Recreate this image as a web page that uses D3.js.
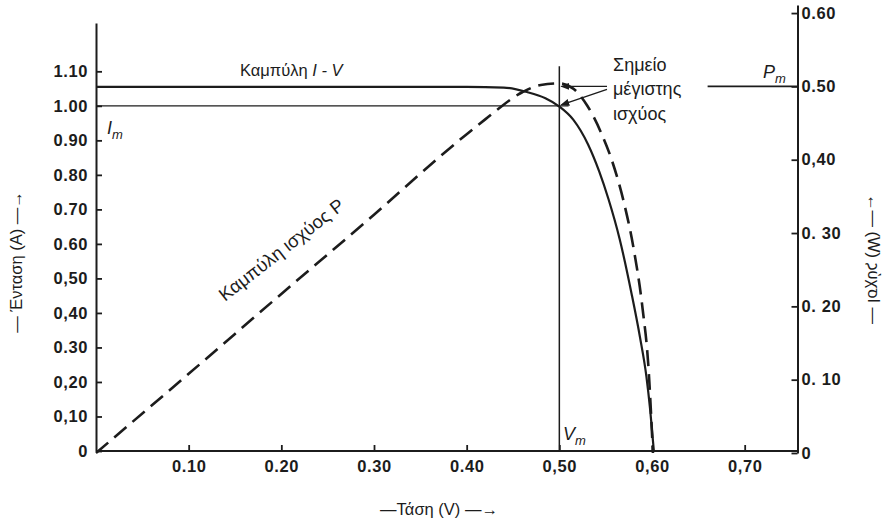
<!DOCTYPE html>
<html><head><meta charset="utf-8">
<script src="https://cdn.jsdelivr.net/npm/d3@7"></script>
<style>
html,body{margin:0;padding:0;background:#fff;}
svg{display:block;}
text{font-family:"Liberation Sans",Arial,sans-serif;fill:#1c1c1c;}
</style></head>
<body>
<svg id="chart" width="888" height="524"></svg>
<script>
// ---- data ----
const ivVoltage = [0, 0.10, 0.20, 0.30, 0.40, 0.44, 0.465, 0.485, 0.50, 0.515, 0.531, 0.543, 0.553, 0.565, 0.578, 0.587, 0.594, 0.598, 0.602];
const ivCurrent = [1.055, 1.055, 1.055, 1.055, 1.055, 1.053, 1.04, 1.022, 0.998, 0.96, 0.888, 0.81, 0.73, 0.615, 0.455, 0.33, 0.215, 0.12, 0];

const pVoltage = [0, 0.10, 0.20, 0.30, 0.37, 0.42, 0.46, 0.48, 0.50, 0.515, 0.53, 0.545, 0.557, 0.57, 0.58, 0.59, 0.596, 0.601];
const pPower   = [0, 0.108, 0.217, 0.325, 0.403, 0.455, 0.492, 0.502, 0.504, 0.497, 0.474, 0.437, 0.398, 0.34, 0.28, 0.195, 0.12, 0];

const xTicks = [0.10, 0.20, 0.30, 0.40, 0.50, 0.60, 0.70];
const xTickLabels = ["0.10", "0.20", "0.30", "0.40", "0,50", "0,60", "0,70"];
const iTicks = [0, 0.10, 0.20, 0.30, 0.40, 0.50, 0.60, 0.70, 0.80, 0.90, 1.00, 1.10];
const iTickLabels = ["0", "0,10", "0,20", "0.30", "0,40", "0,50", "0.60", "0.70", "0.80", "0.90", "1.00", "1.10"];
const pTicks = [0, 0.10, 0.20, 0.30, 0.40, 0.50, 0.60];
const pTickLabels = ["0", "0. 10", "0. 20", "0. 30", "0,40", "0.50", "0.60"];

const maxPowerV = 0.50, maxPowerI = 1.00, maxPowerP = 0.50;

// ---- scales ----
const svg = d3.select("#chart");
const x = d3.scaleLinear().domain([0, 0.757]).range([96, 797.5]);
const yI = d3.scaleLinear().domain([0, 1.24]).range([451, 23]);
const yP = d3.scaleLinear().domain([0, 0.611]).range([453, 5]);

const ink = "#1c1c1c";

const defs = svg.append("defs");
defs.append("marker").attr("id","ah").attr("viewBox","0 0 10 8").attr("refX",9).attr("refY",4)
  .attr("markerWidth",9).attr("markerHeight",7).attr("markerUnits","userSpaceOnUse").attr("orient","auto")
  .append("path").attr("d","M0,0 L10,4 L0,8 Z").attr("fill",ink);

// ---- axes ----
const fmtLabel = (vals, labels) => d => labels[vals.indexOf(d)];

const gL = svg.append("g").attr("transform", `translate(${x(0)},0)`)
  .call(d3.axisLeft(yI).tickValues(iTicks).tickFormat(fmtLabel(iTicks, iTickLabels)).tickSizeInner(-6).tickSizeOuter(0).tickPadding(8));
const gB = svg.append("g").attr("transform", `translate(0,${yI(0)})`)
  .call(d3.axisBottom(x).tickValues(xTicks).tickFormat(fmtLabel(xTicks, xTickLabels)).tickSizeInner(-6).tickSizeOuter(0).tickPadding(9));
const gR = svg.append("g").attr("transform", `translate(${x.range()[1]},0)`)
  .call(d3.axisRight(yP).tickValues(pTicks).tickFormat(fmtLabel(pTicks, pTickLabels)).tickSizeInner(-6).tickSizeOuter(0).tickPadding(4));

[gL, gB, gR].forEach(g => {
  g.select(".domain").attr("stroke", ink).attr("stroke-width", 2);
  g.selectAll(".tick line").attr("stroke", ink).attr("stroke-width", 1.8);
  g.selectAll(".tick text").attr("font-size", 16.5).attr("font-weight", "bold").attr("letter-spacing", 0.6)
    .attr("font-family", '"Liberation Sans",Arial,sans-serif').attr("fill", ink);
});
gB.select(".domain").attr("d", `M${x(0)},0H${x.range()[1]}`);

// ---- reference lines ----
svg.append("line").attr("x1", x(0)).attr("x2", x(0.51)).attr("y1", yI(maxPowerI)).attr("y2", yI(maxPowerI))
  .attr("stroke", ink).attr("stroke-width", 1.3);
svg.append("line").attr("x1", x(maxPowerV)).attr("x2", x(maxPowerV)).attr("y1", yI(0)).attr("y2", yI(1.115))
  .attr("stroke", ink).attr("stroke-width", 1.5);
svg.append("line").attr("x1", x(0.660)).attr("x2", x.range()[1]).attr("y1", yP(maxPowerP)).attr("y2", yP(maxPowerP))
  .attr("stroke", ink).attr("stroke-width", 1.6);

// ---- curves ----
const ivData = ivVoltage.map((v, i) => [v, ivCurrent[i]]);
const pData = pVoltage.map((v, i) => [v, pPower[i]]);

svg.append("path").datum(ivData)
  .attr("d", d3.line().x(d => x(d[0])).y(d => yI(d[1])).curve(d3.curveMonotoneX))
  .attr("fill", "none").attr("stroke", ink).attr("stroke-width", 2.2);

svg.append("path").datum(pData)
  .attr("d", d3.line().x(d => x(d[0])).y(d => yP(d[1])).curve(d3.curveMonotoneX))
  .attr("fill", "none").attr("stroke", ink).attr("stroke-width", 2.6).attr("stroke-dasharray", "16,8");

// ---- arrows to the maximum power point ----
svg.append("line").attr("x1", 607).attr("y1", yP(maxPowerP)).attr("x2", x(maxPowerV) + 2).attr("y2", yP(maxPowerP))
  .attr("stroke", ink).attr("stroke-width", 1.4).attr("marker-end", "url(#ah)");
svg.append("line").attr("x1", 607).attr("y1", yP(maxPowerP) + 3).attr("x2", x(maxPowerV) + 2).attr("y2", yI(maxPowerI) - 1)
  .attr("stroke", ink).attr("stroke-width", 1.4).attr("marker-end", "url(#ah)");

// ---- annotation texts ----
const ann = svg.append("g").attr("font-size", 16);
const t1 = ann.append("text").attr("x", 240).attr("y", 76).attr("font-size", 16.5);
t1.append("tspan").text("Καμπύλη ");
t1.append("tspan").attr("font-style", "italic").text("I - V");

ann.append("text").attr("x", 613).attr("y", 71).attr("font-size", 18).text("Σημείο");
ann.append("text").attr("x", 613).attr("y", 95).attr("font-size", 18).text("μέγιστης");
ann.append("text").attr("x", 613).attr("y", 120).attr("font-size", 18).text("ισχύος");

function sub(xp, yp, main, s) {
  const t = ann.append("text").attr("x", xp).attr("y", yp).attr("font-style", "italic").attr("font-size", 18);
  t.append("tspan").text(main);
  t.append("tspan").attr("font-size", 13).attr("dy", 5).text(s);
}
sub(107, 134, "I", "m");
sub(563, 440, "V", "m");
sub(763, 78, "P", "m");

ann.append("text").attr("transform", "translate(225,302) rotate(-38)").attr("font-size", 18.5)
  .text("Καμπύλη ισχύος  P");

// axis titles
svg.append("text").attr("transform", "translate(22,262) rotate(-90)").attr("text-anchor", "middle")
  .attr("font-size", 16.5).text("— Ένταση  (A) —→");
svg.append("text").attr("transform", "translate(868,259) rotate(90) scale(-1,1)").attr("text-anchor", "middle")
  .attr("font-size", 16.5).text("— Ισχύς  (W) —→");
svg.append("text").attr("x", 439).attr("y", 515).attr("text-anchor", "middle")
  .attr("font-size", 16.5).text("—Τάση  (V) —→");
</script>
</body></html>
